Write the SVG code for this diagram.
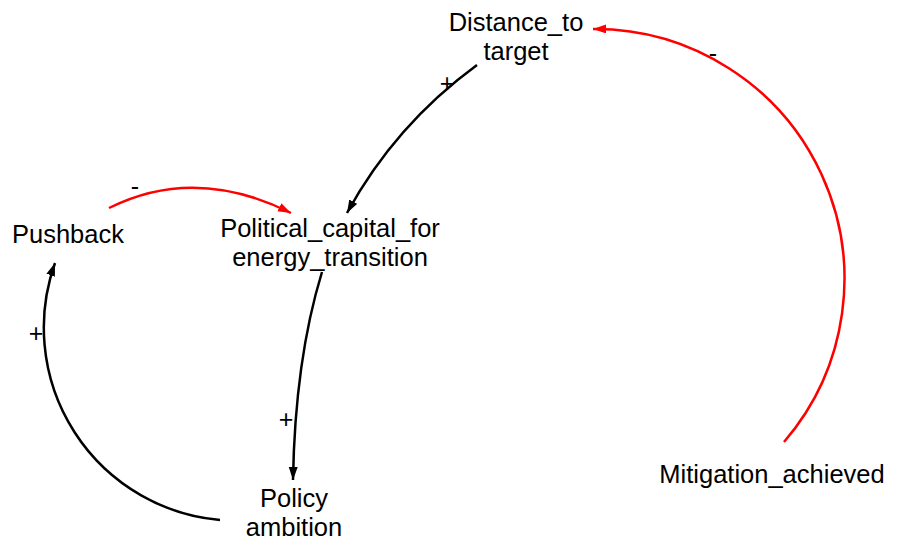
<svg xmlns="http://www.w3.org/2000/svg" width="899" height="546" viewBox="0 0 899 546">
<style>
text{font-family:"Liberation Sans",Arial,sans-serif;font-size:25.5px;fill:#000;text-anchor:middle}
.lbl{font-size:25px}
.b{fill:none;stroke:#000;stroke-width:2.5}
.r{fill:none;stroke:#ff0000;stroke-width:2.5}
</style>
<defs>
<marker id="ab" markerUnits="userSpaceOnUse" markerWidth="14" markerHeight="10" refX="13" refY="4.5" orient="auto"><path d="M0,0 L13,4.5 L0,9 z" fill="#000"/></marker>
<marker id="ar" markerUnits="userSpaceOnUse" markerWidth="14" markerHeight="10" refX="13" refY="4.5" orient="auto"><path d="M0,0 L13,4.5 L0,9 z" fill="#ff0000"/></marker>
</defs>
<rect width="899" height="546" fill="#fff"/>
<g id="connectors">
<path class="b" d="M477,65 Q395,125 347,213" marker-end="url(#ab)"/>
<path class="r" d="M109,208 Q195,165 291,213" marker-end="url(#ar)"/>
<path class="b" d="M322,272 Q295,360 293,480" marker-end="url(#ab)"/>
<path class="b" d="M220,520 A193,193 0 0,1 55,263" marker-end="url(#ab)"/>
<path class="r" d="M784,442 A250,250 0 0,0 593,29" marker-end="url(#ar)"/>
<text class="lbl" x="447" y="92">+</text>
<text class="lbl" x="135" y="195">-</text>
<text class="lbl" x="286" y="428">+</text>
<text class="lbl" x="36" y="342">+</text>
<text class="lbl" x="713" y="62">-</text>
</g>
<g id="distance_to_target"><text x="516" y="31">Distance_to</text><text x="516" y="60">target</text></g>
<g id="political_capital"><text x="330" y="237">Political_capital_for</text><text x="330" y="266">energy_transition</text></g>
<g id="pushback"><text x="68" y="243">Pushback</text></g>
<g id="policy_ambition"><text x="294" y="507">Policy</text><text x="294" y="536">ambition</text></g>
<g id="mitigation_achieved"><text x="772" y="483">Mitigation_achieved</text></g>
</svg>
